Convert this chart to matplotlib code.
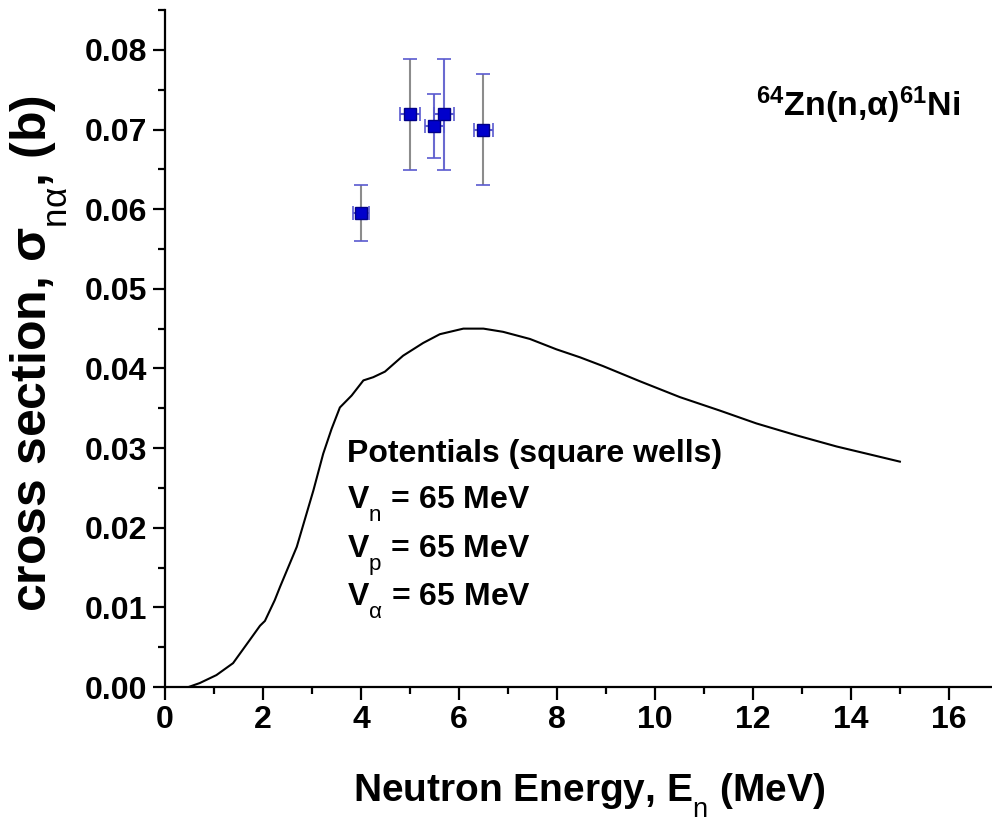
import matplotlib
matplotlib.use("Agg")
import matplotlib.pyplot as plt
import matplotlib._mathtext as mt
from matplotlib.ticker import MultipleLocator, FormatStrFormatter

plt.rcParams['font.family'] = ['Liberation Sans', 'DejaVu Sans']
plt.rcParams['font.weight'] = 'bold'
plt.rcParams['mathtext.fontset'] = 'custom'
plt.rcParams['mathtext.rm'] = 'Liberation Sans:normal'
plt.rcParams['mathtext.it'] = 'Liberation Sans:normal'
plt.rcParams['mathtext.bf'] = 'Liberation Sans:bold'
plt.rcParams['mathtext.default'] = 'regular'
# Origin-style low subscripts
mt.FontConstantsBase.sub1 = 0.8

# calculated cross section (square-well potentials)
calc_e = [0.48, 0.71, 1.05, 1.39, 1.73, 1.94, 2.04, 2.24, 2.35, 2.69, 3.03, 3.23,
          3.40, 3.57, 3.81, 4.05, 4.25, 4.49, 4.86, 5.27, 5.61, 6.09, 6.50, 6.90,
          7.45, 7.99, 8.47, 8.94, 9.69, 10.51, 11.33, 12.07, 12.89, 13.71, 14.39, 15.0]
calc_sig = [0.0, 0.0005, 0.0015, 0.0030, 0.0059, 0.0077, 0.0083, 0.0109, 0.0126, 0.0176,
            0.0247, 0.0293, 0.0324, 0.0351, 0.0366, 0.0385, 0.0389, 0.0396, 0.0416, 0.0432,
            0.0443, 0.0450, 0.0450, 0.0446, 0.0437, 0.0424, 0.0414, 0.0403, 0.0384, 0.0364,
            0.0347, 0.0331, 0.0316, 0.0302, 0.0292, 0.0283]

# measured points
exp_e = [4.0, 5.0, 5.5, 5.7, 6.5]
exp_sig = [0.0595, 0.0719, 0.0704, 0.0719, 0.0700]
exp_de = [0.16, 0.2, 0.2, 0.2, 0.2]
exp_dsig = [0.0035, 0.007, 0.004, 0.007, 0.007]

fig = plt.figure(figsize=(9.92, 8.23), dpi=100)
ax = fig.add_axes([0.1663, 0.1652, 0.8337, 0.8226])

ax.plot(calc_e, calc_sig, color='black', lw=1.5)

line, caps, bars = ax.errorbar(exp_e, exp_sig, xerr=exp_de, yerr=exp_dsig, fmt='s',
                               ms=8, mfc='#0000cc', mec='#000088', ecolor='#8c8c8c',
                               elinewidth=1.5, capsize=5, capthick=1.2, zorder=3)
for c in caps:
    c.set_markeredgecolor('#5a5ad0')
bars[0].set_color('#5a5ad0')
bars[1].set_color(['#8c8c8c', '#8c8c8c', '#6a6ad0', '#6a6ad0', '#8c8c8c'])

ax.set_xlim(0, 16.88)
ax.set_ylim(0, 0.085)
ax.xaxis.set_major_locator(MultipleLocator(2))
ax.xaxis.set_minor_locator(MultipleLocator(1))
ax.yaxis.set_major_locator(MultipleLocator(0.01))
ax.yaxis.set_minor_locator(MultipleLocator(0.005))
ax.yaxis.set_major_formatter(FormatStrFormatter('%.2f'))

for s in ['top', 'right']:
    ax.spines[s].set_visible(False)
for s in ['left', 'bottom']:
    ax.spines[s].set_linewidth(1.6)

ax.tick_params(which='major', direction='out', length=9, width=1.6, labelsize=23, pad=4)
ax.tick_params(which='minor', direction='out', length=5, width=1.6)

ax.set_xlabel(r'Neutron Energy, E$_{\mathrm{n}}$ (MeV)', fontsize=28, fontweight='bold')
ax.xaxis.set_label_coords(0.513, -0.125)
ax.set_ylabel(r'cross section, $\sigma_{\mathrm{n\alpha}}$, (b)', fontsize=36,
              fontweight='bold')
ax.yaxis.set_label_coords(-0.115, 0.493)

ax.text(0.961, 0.86, r'$^{64}$Zn(n,$\alpha$)$^{61}$Ni', transform=ax.transAxes,
        ha='right', va='center', fontsize=24.5, fontweight='bold')

tx = 3.72
ax.text(tx, 0.0282, 'Potentials (square wells)', fontsize=23, fontweight='bold', va='baseline')
ax.text(tx, 0.0224, r'V$_{\mathrm{n}}$ = 65 MeV', fontsize=23, fontweight='bold', va='baseline')
ax.text(tx, 0.0163, r'V$_{\mathrm{p}}$ = 65 MeV', fontsize=23, fontweight='bold', va='baseline')
ax.text(tx, 0.0103, r'V$_{\mathrm{\alpha}}$ = 65 MeV', fontsize=23, fontweight='bold', va='baseline')

fig.savefig('out.png', dpi=100)
